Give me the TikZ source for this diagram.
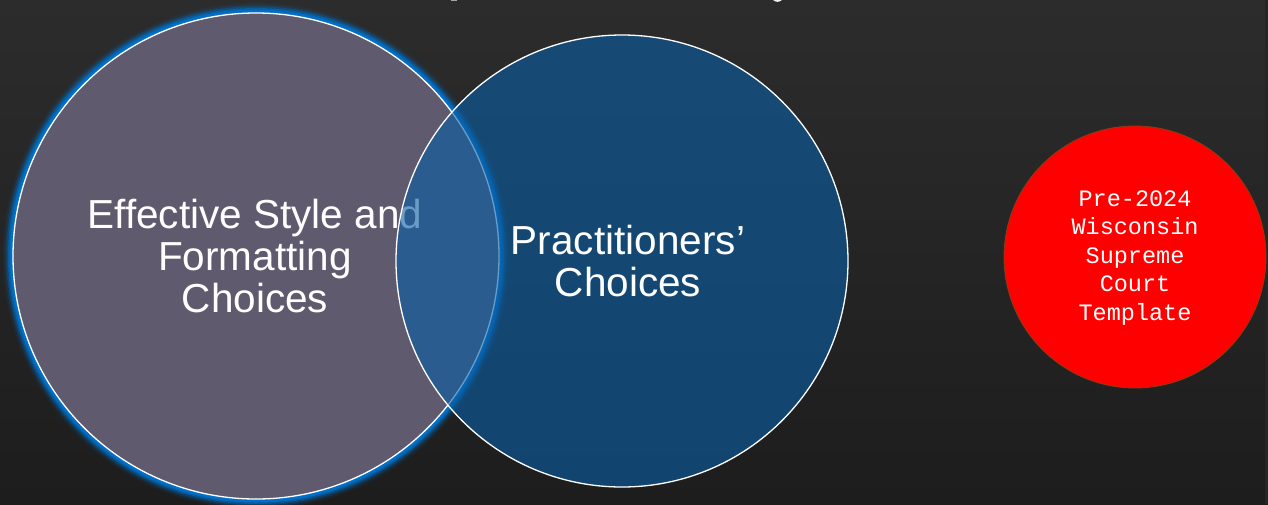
\documentclass[tikz,border=0pt]{standalone}
\usepackage{fontspec}
\setmainfont{Liberation Sans}
\newfontfamily\monofont{Liberation Mono}
\definecolor{bgtop}{RGB}{44,44,44}
\definecolor{bgbottom}{RGB}{29,29,29}
\definecolor{stylefill}{RGB}{95,90,110}
\definecolor{glowblue}{RGB}{0,112,200}
\definecolor{practfill}{RGB}{10,94,164}
\definecolor{templatered}{RGB}{255,0,0}
\definecolor{templateedge}{RGB}{140,60,20}
\begin{document}
\begin{tikzpicture}[x=1pt,y=-1pt,
  bigtext/.style={text=white, align=center, font=\fontsize{40.5}{42}\selectfont},
  monotext/.style={text=white, align=center, font=\monofont\fontsize{23.5}{28.5}\selectfont},
  ring/.style={draw=white, line width=1.3pt}]
  % backdrop
  \shade[top color=bgtop, bottom color=bgbottom] (0,0) rectangle (1268,504);
  \fill[black!85] (1265,0) rectangle (1268,504);
  \useasboundingbox (0,0) rectangle (1268,504);
  % remnants of the heading above the frame
  \fill[gray!70] (451,0) rectangle (457,1.2);
  \fill[white!90!gray] (773,0) .. controls (776,2.4) and (779,2.4) .. (782,0) -- cycle;
  % soft blue halo of the first set
  \foreach \w/\o in {20/0.1, 16/0.18, 13/0.3, 10/0.5, 7/0.85, 5/1}
    \draw[glowblue, line width=\w pt, opacity=\o] (256,256) circle (243);
  % first set
  \node[circle, minimum size=486pt, inner sep=0pt, fill=stylefill, ring] (style) at (256,256) {};
  \node[bigtext] (styletext) at (255,256) {Effective Style and\\Formatting\\Choices};
  % second set, translucent over the first
  \node[circle, minimum size=452pt, inner sep=0pt, fill=practfill, fill opacity=0.61, ring] (pract) at (622,261) {};
  \node[bigtext] (practtext) at (628,261) {Practitioners’\\Choices};
  % separate template disc
  \node[circle, minimum size=262pt, inner sep=0pt, fill=templatered, draw=templateedge, line width=0.8pt] (template) at (1135,257) {};
  \node[monotext] (templatetext) at (1135,258) {Pre-2024\\Wisconsin\\Supreme\\Court\\Template};
\end{tikzpicture}
\end{document}
